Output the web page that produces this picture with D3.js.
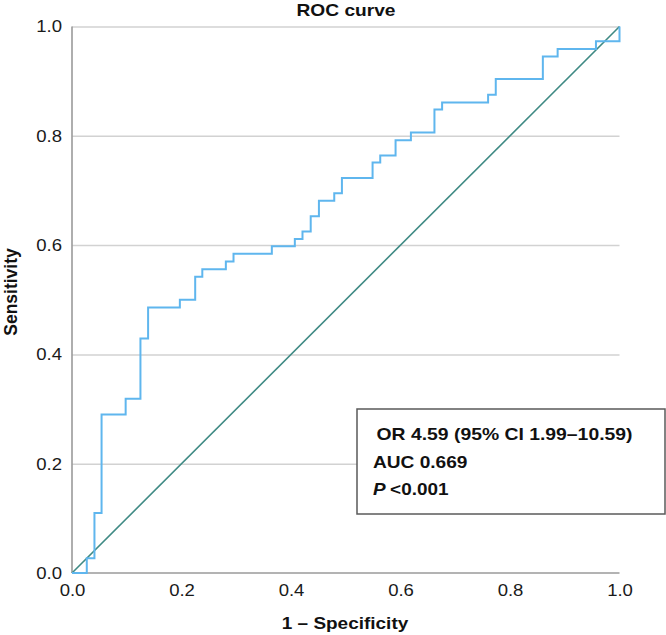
<!DOCTYPE html>
<html>
<head>
<meta charset="utf-8">
<script src="https://cdn.jsdelivr.net/npm/d3@7"></script>
<style>
  html, body { margin: 0; padding: 0; background: #fff; }
  text { font-family: "Liberation Sans", Arial, Helvetica, sans-serif; }
</style>
</head>
<body>
<svg id="chart" width="666" height="635"></svg>
<script>
// ROC step-curve vertices (1 - specificity, sensitivity)
const fpr = [0, 0.027, 0.041, 0.054, 0.098, 0.125, 0.139, 0.197, 0.225, 0.238, 0.281, 0.295,
             0.365, 0.407, 0.421, 0.436, 0.451, 0.479, 0.493, 0.549, 0.563, 0.591, 0.619,
             0.662, 0.676, 0.760, 0.774, 0.860, 0.887, 0.957, 1.0];
const tpr = [0, 0.027, 0.110, 0.290, 0.319, 0.429, 0.486, 0.500, 0.542, 0.556, 0.570, 0.584,
             0.598, 0.611, 0.625, 0.653, 0.681, 0.695, 0.723, 0.751, 0.764, 0.792, 0.806,
             0.848, 0.861, 0.875, 0.904, 0.945, 0.959, 0.973, 1.0];
const refLine = [[0, 0], [1, 1]];
const tickValues = [0, 0.2, 0.4, 0.6, 0.8, 1.0];
const title = "ROC curve";
const xTitle = "1 – Specificity";
const yTitle = "Sensitivity";
const statLines = ["OR 4.59 (95% CI 1.99–10.59)", "AUC 0.669", "<0.001"];

const svg = d3.select("#chart");
const x = d3.scaleLinear().domain([0, 1]).range([72, 619.5]);
const y = d3.scaleLinear().domain([0, 1]).range([573, 26.5]);

// widen horizontal text slightly (reference glyphs are horizontally wide)
function stretch(sel, factor) {
  sel.each(function () {
    const w = this.getComputedTextLength();
    d3.select(this).attr("textLength", w * factor).attr("lengthAdjust", "spacingAndGlyphs");
  });
}
function fit(sel, width) {
  sel.attr("textLength", width).attr("lengthAdjust", "spacingAndGlyphs");
}

// gridlines
svg.append("g")
  .attr("transform", `translate(${x(0)},0)`)
  .call(d3.axisLeft(y).tickValues(tickValues.slice(1)).tickSize(-(x(1) - x(0))).tickFormat(""))
  .call(g => g.select(".domain").remove())
  .call(g => g.selectAll(".tick line").attr("stroke", "#d2d2d2").attr("stroke-width", 1.5));

// y tick labels
svg.append("g")
  .attr("transform", `translate(${x(0)},0)`)
  .call(d3.axisLeft(y).tickValues(tickValues).tickSize(0).tickPadding(10).tickFormat(d3.format(".1f")))
  .call(g => g.select(".domain").remove())
  .call(g => g.selectAll("text").attr("font-size", 17).attr("fill", "#1a1a1a")
    .attr("font-family", "'Liberation Sans', Arial, sans-serif"))
  .call(g => stretch(g.selectAll("text"), 1.09));

// x tick labels
svg.append("g")
  .attr("transform", `translate(0,${y(0)})`)
  .call(d3.axisBottom(x).tickValues(tickValues).tickSize(0).tickPadding(11).tickFormat(d3.format(".1f")))
  .call(g => g.select(".domain").remove())
  .call(g => g.selectAll("text").attr("font-size", 17).attr("fill", "#1a1a1a")
    .attr("font-family", "'Liberation Sans', Arial, sans-serif"))
  .call(g => stretch(g.selectAll("text"), 1.09));

// axis lines
svg.append("line").attr("x1", x(0)).attr("x2", x(0)).attr("y1", y(0)).attr("y2", y(1))
  .attr("stroke", "#9a9a9a").attr("stroke-width", 1.6);
svg.append("line").attr("x1", x(0)).attr("x2", x(1)).attr("y1", y(0)).attr("y2", y(0))
  .attr("stroke", "#9a9a9a").attr("stroke-width", 1.6);

// reference diagonal
svg.append("path")
  .datum(refLine)
  .attr("d", d3.line().x(d => x(d[0])).y(d => y(d[1])))
  .attr("fill", "none").attr("stroke", "#3f8a84").attr("stroke-width", 1.6);

// ROC curve
const pts = fpr.map((f, i) => [f, tpr[i]]);
svg.append("path")
  .datum(pts)
  .attr("d", d3.line().x(d => x(d[0])).y(d => y(d[1])).curve(d3.curveStepAfter))
  .attr("fill", "none").attr("stroke", "#5fb6ee").attr("stroke-width", 2);

// titles
const t1 = svg.append("text").attr("x", 346).attr("y", 16).attr("text-anchor", "middle")
  .attr("font-size", 17).attr("font-weight", "bold").attr("fill", "#111").text(title);
fit(t1, 99);
const t2 = svg.append("text").attr("x", 345).attr("y", 629).attr("text-anchor", "middle")
  .attr("font-size", 17).attr("font-weight", "bold").attr("fill", "#111").text(xTitle);
fit(t2, 126.5);
svg.append("text").attr("transform", "translate(17,292) rotate(-90)").attr("text-anchor", "middle")
  .attr("font-size", 17.5).attr("font-weight", "bold").attr("fill", "#111").text(yTitle);

// stats box
svg.append("rect").attr("x", 357).attr("y", 409).attr("width", 308).attr("height", 105)
  .attr("fill", "#fff").attr("stroke", "#5a5a5a").attr("stroke-width", 1.5);
const s1 = svg.append("text").attr("x", 376.5).attr("y", 440).attr("font-size", 17).attr("font-weight", "bold")
  .attr("fill", "#111").text(statLines[0]);
fit(s1, 256);
const s2 = svg.append("text").attr("x", 373).attr("y", 467.5).attr("font-size", 17).attr("font-weight", "bold")
  .attr("fill", "#111").text(statLines[1]);
fit(s2, 94.5);
const pt = svg.append("text").attr("x", 373).attr("y", 495).attr("font-size", 17).attr("font-weight", "bold")
  .attr("fill", "#111");
pt.append("tspan").attr("font-style", "italic").text("P");
pt.append("tspan").attr("dx", 4).text(statLines[2]);
fit(pt, 75.5);
</script>
</body>
</html>
